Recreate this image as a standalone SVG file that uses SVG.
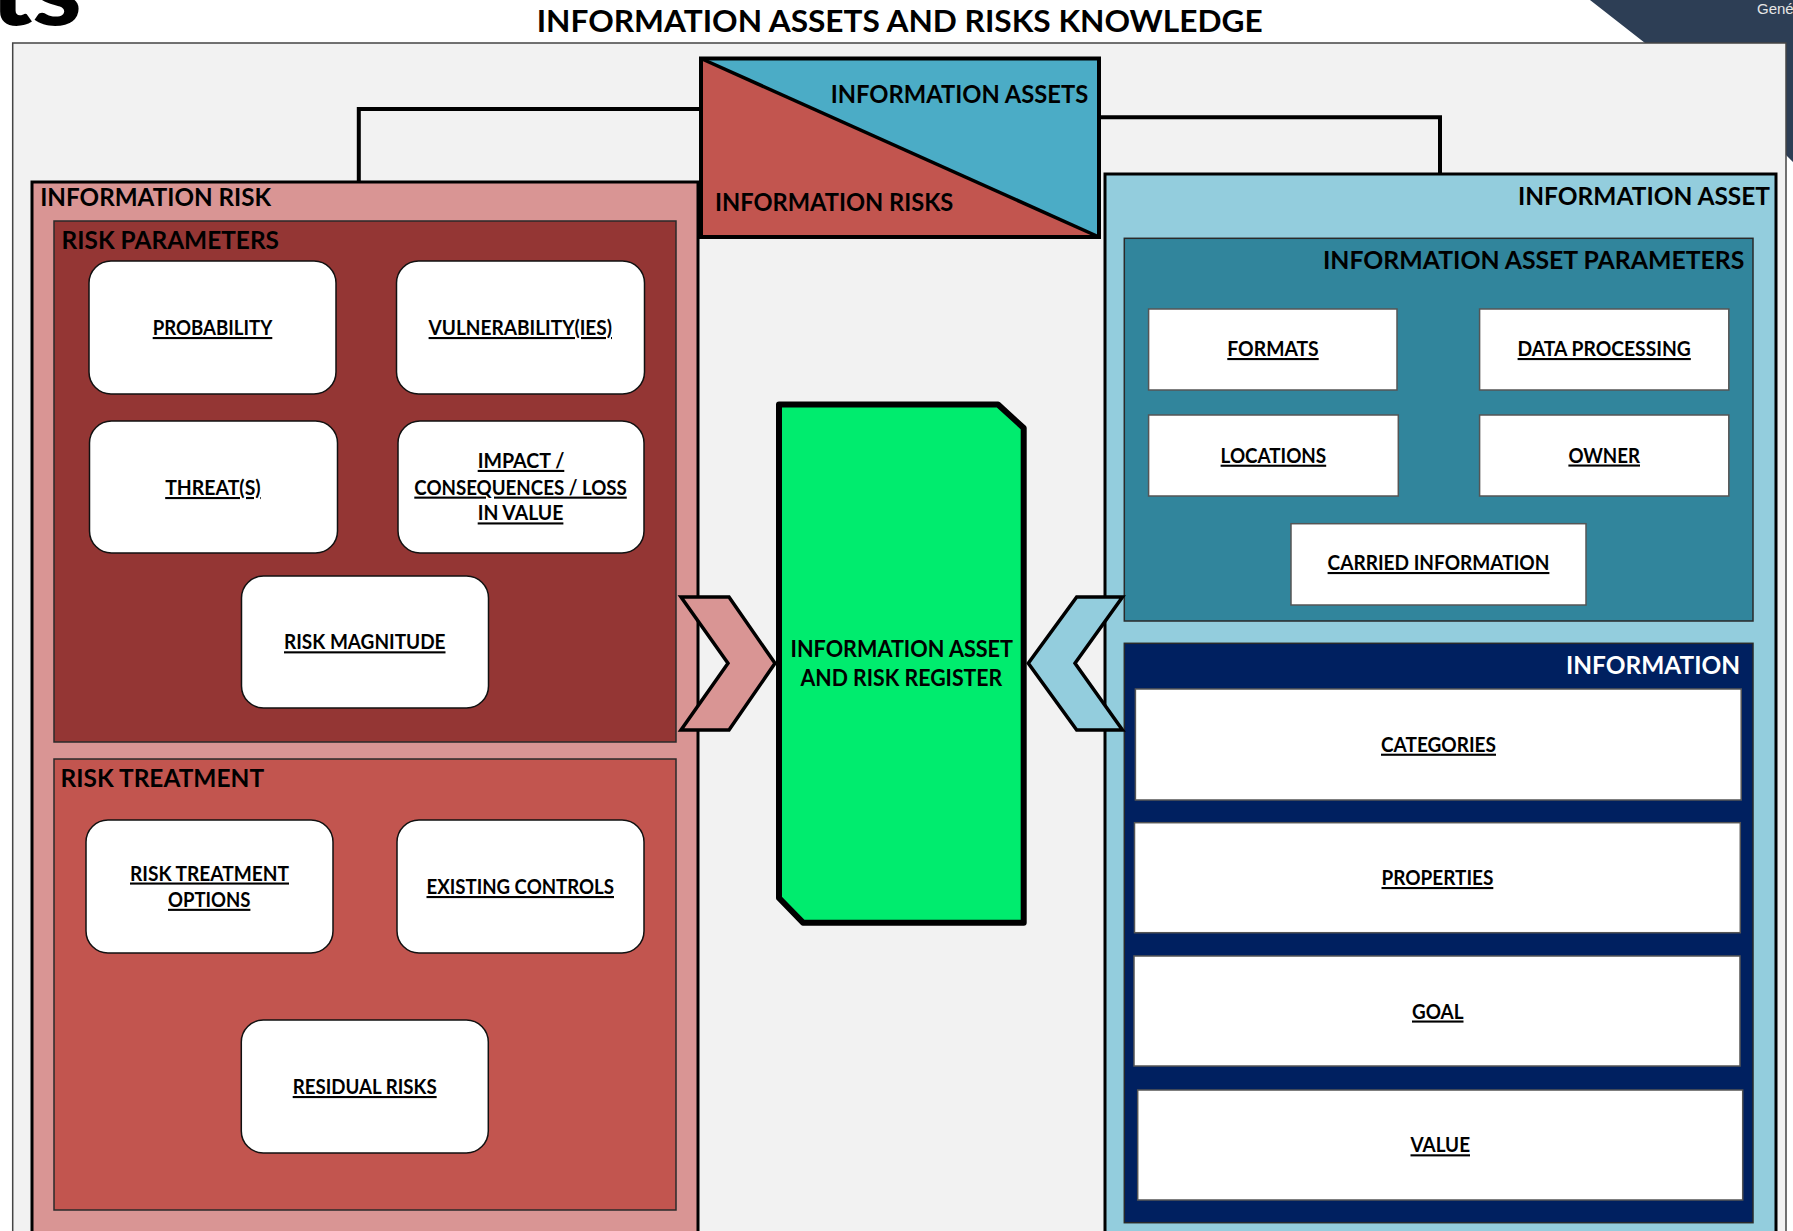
<svg xmlns="http://www.w3.org/2000/svg" width="1793" height="1231" viewBox="0 0 1793 1231">
<style>
text { font-family: Lato, "Liberation Sans", sans-serif; font-weight: 700; fill: #000; }
.title { font-size: 30px; }
.hdr { font-size: 24px; }
.lbl { font-size: 21px; text-decoration: underline; }
.reg { font-size: 23px; }
.outer { stroke: #000; stroke-width: 3; }
.inner { stroke: #2a2a2a; stroke-width: 1.5; }
.rbox { fill: #fff; stroke: #111; stroke-width: 1.5; }
.sbox { fill: #fff; stroke: #555; stroke-width: 1.5; }
.conn { fill: none; stroke: #000; stroke-width: 4; }
.chev { stroke: #000; stroke-width: 3.5; stroke-linejoin: miter; }
</style>

<!-- page background and header -->
<rect x="0" y="0" width="1793" height="1231" fill="#ffffff"/>
<polygon points="1590,0 1793,0 1793,162 1786,155 1645,43" fill="#2d3e55"/>
<text x="-10" y="25" font-size="100" textLength="92" lengthAdjust="spacingAndGlyphs" style="font-weight:900">ts</text>
<text x="1757" y="13.5" style="font-family:'Liberation Sans',sans-serif;font-weight:400;font-size:15px;fill:#e6e6e6">Gené</text>
<rect x="12.7" y="43" width="1773.3" height="1300" fill="#f2f2f2" stroke="#444" stroke-width="1.5"/>
<text class="title" x="536.7" y="31.7" textLength="726" lengthAdjust="spacingAndGlyphs">INFORMATION ASSETS AND RISKS KNOWLEDGE</text>

<!-- connectors -->
<g id="connectors">
  <path class="conn" d="M 699 109 H 358.8 V 182"/>
  <path class="conn" d="M 1101 117.3 H 1440 V 174"/>
</g>

<!-- risk side -->
<g id="information-risk">
  <rect class="outer" x="32" y="182" width="666" height="1100" fill="#d99594"/>
  <text class="hdr" x="40.2" y="205.7" textLength="231" lengthAdjust="spacingAndGlyphs">INFORMATION RISK</text>
</g>
<g id="risk-parameters">
  <rect class="inner" x="54" y="221" width="622" height="521" fill="#943634"/>
  <text class="hdr" x="61.6" y="248.6" textLength="217.4" lengthAdjust="spacingAndGlyphs">RISK PARAMETERS</text>
</g>
<g id="probability">
  <rect class="rbox" x="89" y="261" width="247" height="133" rx="22"/>
  <text class="lbl" x="152.7" y="335" textLength="119.6" lengthAdjust="spacingAndGlyphs">PROBABILITY</text>
</g>
<g id="vulnerabilities">
  <rect class="rbox" x="396.5" y="261" width="248" height="133" rx="22"/>
  <text class="lbl" x="428.6" y="335" textLength="183.4" lengthAdjust="spacingAndGlyphs">VULNERABILITY(IES)</text>
</g>
<g id="threats">
  <rect class="rbox" x="89.5" y="421" width="248" height="132" rx="22"/>
  <text class="lbl" x="165.2" y="495" textLength="95.5" lengthAdjust="spacingAndGlyphs">THREAT(S)</text>
</g>
<g id="impact">
  <rect class="rbox" x="398" y="421" width="246" height="132" rx="22"/>
  <text class="lbl" x="477.7" y="467.9" textLength="86.6" lengthAdjust="spacingAndGlyphs">IMPACT /</text>
  <text class="lbl" x="414.3" y="494.6" textLength="212.5" lengthAdjust="spacingAndGlyphs">CONSEQUENCES / LOSS</text>
  <text class="lbl" x="477.7" y="520.4" textLength="85.7" lengthAdjust="spacingAndGlyphs">IN VALUE</text>
</g>
<g id="risk-magnitude">
  <rect class="rbox" x="241.5" y="576" width="247" height="132" rx="22"/>
  <text class="lbl" x="284" y="649.3" textLength="161.5" lengthAdjust="spacingAndGlyphs">RISK MAGNITUDE</text>
</g>
<g id="risk-treatment">
  <rect class="inner" x="54" y="759" width="622" height="451" fill="#c2554f"/>
  <text class="hdr" x="60.6" y="787" textLength="203.5" lengthAdjust="spacingAndGlyphs">RISK TREATMENT</text>
</g>
<g id="risk-treatment-options">
  <rect class="rbox" x="86" y="820" width="247" height="133" rx="22"/>
  <text class="lbl" x="130" y="880.5" textLength="159" lengthAdjust="spacingAndGlyphs">RISK TREATMENT</text>
  <text class="lbl" x="168" y="906.8" textLength="82.4" lengthAdjust="spacingAndGlyphs">OPTIONS</text>
</g>
<g id="existing-controls">
  <rect class="rbox" x="397" y="820" width="247" height="133" rx="22"/>
  <text class="lbl" x="426.5" y="894" textLength="187.5" lengthAdjust="spacingAndGlyphs">EXISTING CONTROLS</text>
</g>
<g id="residual-risks">
  <rect class="rbox" x="241.3" y="1020" width="247" height="133" rx="22"/>
  <text class="lbl" x="292.7" y="1094" textLength="144" lengthAdjust="spacingAndGlyphs">RESIDUAL RISKS</text>
</g>

<!-- split header box -->
<g id="assets-risks-header">
  <polygon points="701,58.5 1099,237 701,237" fill="#c2554f"/>
  <polygon points="701,58.5 1099,58.5 1099,237" fill="#4bacc6"/>
  <line x1="701" y1="58.5" x2="1099" y2="237" stroke="#000" stroke-width="3.5"/>
  <rect x="701" y="58.5" width="398" height="178.5" fill="none" stroke="#000" stroke-width="4"/>
  <text class="hdr" x="830.7" y="102.7" textLength="257.6" lengthAdjust="spacingAndGlyphs">INFORMATION ASSETS</text>
  <text class="hdr" x="715" y="210.7" textLength="238.3" lengthAdjust="spacingAndGlyphs">INFORMATION RISKS</text>
</g>

<!-- asset side -->
<g id="information-asset">
  <rect class="outer" x="1105" y="174" width="671" height="1100" fill="#93cddd"/>
  <text class="hdr" x="1518" y="205" textLength="252" lengthAdjust="spacingAndGlyphs">INFORMATION ASSET</text>
</g>
<g id="asset-parameters">
  <rect class="inner" x="1124.3" y="238.3" width="628.7" height="382.7" fill="#31859c"/>
  <text class="hdr" x="1323" y="269.3" textLength="421.3" lengthAdjust="spacingAndGlyphs">INFORMATION ASSET PARAMETERS</text>
</g>
<g id="formats">
  <rect class="sbox" x="1148.6" y="309" width="248.4" height="81"/>
  <text class="lbl" x="1227.3" y="356" textLength="91.4" lengthAdjust="spacingAndGlyphs">FORMATS</text>
</g>
<g id="data-processing">
  <rect class="sbox" x="1479.6" y="309" width="249.2" height="81"/>
  <text class="lbl" x="1517.6" y="356" textLength="173.2" lengthAdjust="spacingAndGlyphs">DATA PROCESSING</text>
</g>
<g id="locations">
  <rect class="sbox" x="1148.6" y="415" width="249.7" height="81"/>
  <text class="lbl" x="1220.6" y="462.7" textLength="105.6" lengthAdjust="spacingAndGlyphs">LOCATIONS</text>
</g>
<g id="owner">
  <rect class="sbox" x="1479.6" y="415" width="249.2" height="81"/>
  <text class="lbl" x="1568.4" y="462.5" textLength="71.6" lengthAdjust="spacingAndGlyphs">OWNER</text>
</g>
<g id="carried-information">
  <rect class="sbox" x="1291" y="523.7" width="295" height="81.3"/>
  <text class="lbl" x="1327.6" y="570" textLength="221.8" lengthAdjust="spacingAndGlyphs">CARRIED INFORMATION</text>
</g>
<g id="information">
  <rect class="inner" x="1124.3" y="643.3" width="628.7" height="579.4" fill="#002060"/>
  <text class="hdr" x="1566" y="674.3" textLength="174" lengthAdjust="spacingAndGlyphs" style="fill:#fff">INFORMATION</text>
</g>
<g id="categories">
  <rect class="sbox" x="1135.4" y="689" width="605.8" height="111"/>
  <text class="lbl" x="1381" y="751.7" textLength="115" lengthAdjust="spacingAndGlyphs">CATEGORIES</text>
</g>
<g id="properties">
  <rect class="sbox" x="1134.5" y="822.7" width="605.8" height="110"/>
  <text class="lbl" x="1381.5" y="885" textLength="111.8" lengthAdjust="spacingAndGlyphs">PROPERTIES</text>
</g>
<g id="goal">
  <rect class="sbox" x="1134" y="956" width="606" height="110"/>
  <text class="lbl" x="1412" y="1018.5" textLength="51.5" lengthAdjust="spacingAndGlyphs">GOAL</text>
</g>
<g id="value">
  <rect class="sbox" x="1137.7" y="1090" width="605" height="110"/>
  <text class="lbl" x="1410.5" y="1152.3" textLength="59.5" lengthAdjust="spacingAndGlyphs">VALUE</text>
</g>

<!-- register and chevrons -->
<g id="register">
  <polygon points="779,404.5 998,404.5 1023.7,428 1023.7,922.7 803,922.7 779,898" fill="#00ec6e" stroke="#000" stroke-width="6" stroke-linejoin="round"/>
  <text class="reg" x="790.5" y="656.5" textLength="222.5" lengthAdjust="spacingAndGlyphs">INFORMATION ASSET</text>
  <text class="reg" x="800.5" y="686.2" textLength="201.8" lengthAdjust="spacingAndGlyphs">AND RISK REGISTER</text>
</g>
<g id="risk-chevron">
  <polygon class="chev" points="681,597 729,597 775,663.3 729,730 681,730 728,663.3" fill="#d99594"/>
</g>
<g id="asset-chevron">
  <polygon class="chev" points="1122.5,597 1076.7,597 1028.3,663.3 1076.7,730 1122.5,730 1075,663.3" fill="#93cddd"/>
</g>
</svg>
